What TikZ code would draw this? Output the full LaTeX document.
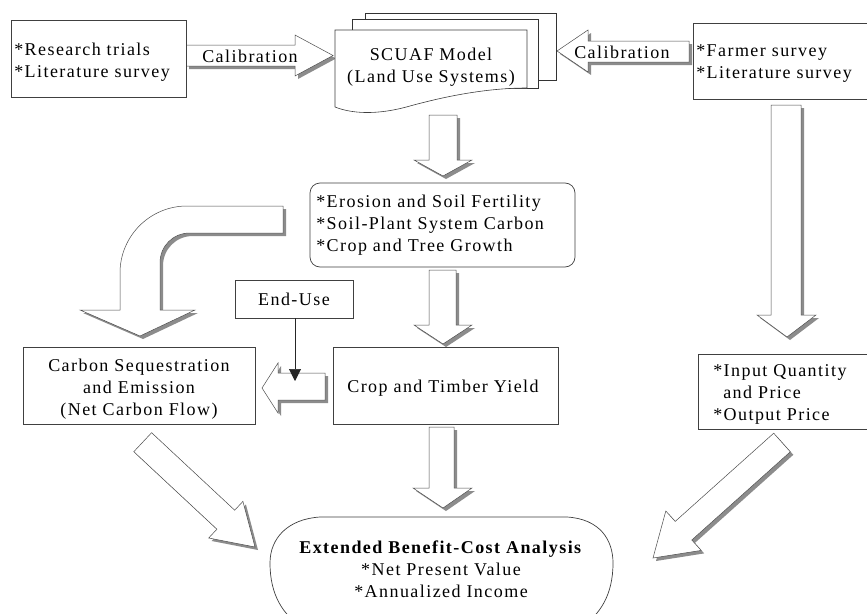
\documentclass[tikz,border=0pt]{standalone}
\usepackage{fontspec}
\setmainfont{Liberation Serif}[LetterSpace=8]
\usetikzlibrary{shadows,arrows.meta}
\begin{document}
\begin{tikzpicture}[x=1pt,y=-1pt,
  line width=0.6pt,
  box/.style={draw=black!75, fill=white, line width=0.7pt},
  txt/.style={font=\fontsize{18}{22}\selectfont, inner sep=0pt, align=left, text=black},
  ctxt/.style={font=\fontsize{18}{22}\selectfont, inner sep=0pt, align=center, text=black},
  blk/.style={draw=black!70, fill=white, line width=0.5pt, line join=miter,
    drop shadow={shadow xshift=3pt, shadow yshift=-3pt, fill=black!45, opacity=1}},
]
\useasboundingbox (0,0) rectangle (867,613);
\clip (0,0) rectangle (867,613);
\fill[white] (0,0) rectangle (867,613);

% ---------- block arrows ----------
% left calibration
\draw[blk] (186,45) -- (295,45) -- (295,35) -- (333,55.5) -- (295,76) -- (295,66) -- (186,66) -- cycle;
% right calibration
\draw[blk] (689,41) -- (588,41) -- (588,30) -- (557,51) -- (588,72) -- (588,62) -- (689,62) -- cycle;
% SCUAF -> erosion
\draw[blk] (429,115) -- (457,115) -- (457,160) -- (472,160) -- (443,176) -- (414,160) -- (429,160) -- cycle;
% erosion -> crop
\draw[blk] (429,270) -- (456,270) -- (456,325) -- (472,325) -- (443,344) -- (414,325) -- (429,325) -- cycle;
% crop -> analysis
\draw[blk] (429,427) -- (454,427) -- (454,488) -- (472,488) -- (443,508) -- (413,488) -- (429,488) -- cycle;
% farmer -> input
\draw[blk] (771,105) -- (801,105) -- (801,315) -- (816,315) -- (787,337) -- (757,315) -- (771,315) -- cycle;
% crop -> carbon
\draw[blk] (325,373) -- (278,373) -- (278,363) -- (262,388) -- (278,413) -- (278,400) -- (325,400) -- cycle;
% curved arrow
\draw[blk] (283,206) -- (187,206) .. controls (150,206) and (120,236) .. (120,273) -- (120,310) -- (80,310) -- (140,336) -- (195,310) -- (160,310) -- (160,263) .. controls (160,246) and (173,233) .. (190,233) -- (283,233) -- cycle;
% carbon -> analysis
\draw[blk] (133.8,451.7) -- (216.9,529.2) -- (208.7,538) -- (255,547) -- (242.9,501.4) -- (234.7,510.2) -- (151.6,432.7) -- cycle;
% input -> analysis
\draw[blk] (773.7,433.2) -- (675.2,521.4) -- (665.8,511.0) -- (653,558) -- (701.2,550.4) -- (691.8,540.0) -- (790.3,451.8) -- cycle;

% ---------- boxes ----------
\draw[box] (11,20) rectangle (186,97);
\node[txt, anchor=west] (res) at (14,62) {*Research trials\\*Literature survey};

\node[ctxt] (cal1) at (250,56) {Calibration};
\node[ctxt] (cal2) at (622,52) {Calibration};

% SCUAF document stack
\draw[line width=1pt, draw=black!80, fill=white] (365,13) rectangle (556,80);
\draw[line width=1pt, draw=black!80, fill=white] (352,19) rectangle (538,88);
\draw[draw=black!75, fill=white, line width=0.6pt] (335,30) -- (527,30) -- (527,88) .. controls (490,88) and (450,95) .. (410,106) .. controls (375,116) and (350,113) .. (335,107) -- cycle;
\node[ctxt] (scuaf) at (431,67) {SCUAF Model\\(Land Use Systems)};

\draw[box] (693,23) rectangle (880,99);
\node[txt, anchor=west] (farmer) at (696,64) {*Farmer survey\\*Literature survey};

\draw[box, rounded corners=10pt] (310,183) rectangle (575,267);
\node[txt, anchor=west] (erosion) at (316,225) {*Erosion and Soil Fertility\\*Soil-Plant System Carbon\\*Crop and Tree Growth};

\draw[box] (235,280) rectangle (353,318);
\node[ctxt] (enduse) at (294,299.5) {End-Use};
\coordinate (eutop) at (295,318);
\coordinate (eutip) at (295,381);
\draw[black!85, line width=0.6pt, -{Triangle[length=12pt,width=12pt]}] (eutop) -- (eutip);

\draw[box] (23,347) rectangle (255,424);
\node[ctxt] (carbon) at (139,389) {Carbon Sequestration\\and Emission\\(Net Carbon Flow)};

\draw[box] (333,347) rectangle (558,424);
\node[ctxt] (crop) at (443,388) {Crop and Timber Yield};

\draw[box] (698,354) rectangle (880,429);
\node[txt, anchor=west] (input) at (713,394) {*Input Quantity\\\hspace*{10pt}and Price\\*Output Price};

% analysis shape
\draw[box] (320,517) -- (567,517) .. controls (600,519) and (613,540) .. (613,563) .. controls (613,595) and (600,615) .. (580,628) -- (303,628) .. controls (283,615) and (270,595) .. (270,563) .. controls (270,538) and (288,519) .. (320,517) -- cycle;
\node[ctxt] (analysis) at (441,569) {\textbf{Extended Benefit-Cost Analysis}\\*Net Present Value\\*Annualized Income};
\end{tikzpicture}
\end{document}
